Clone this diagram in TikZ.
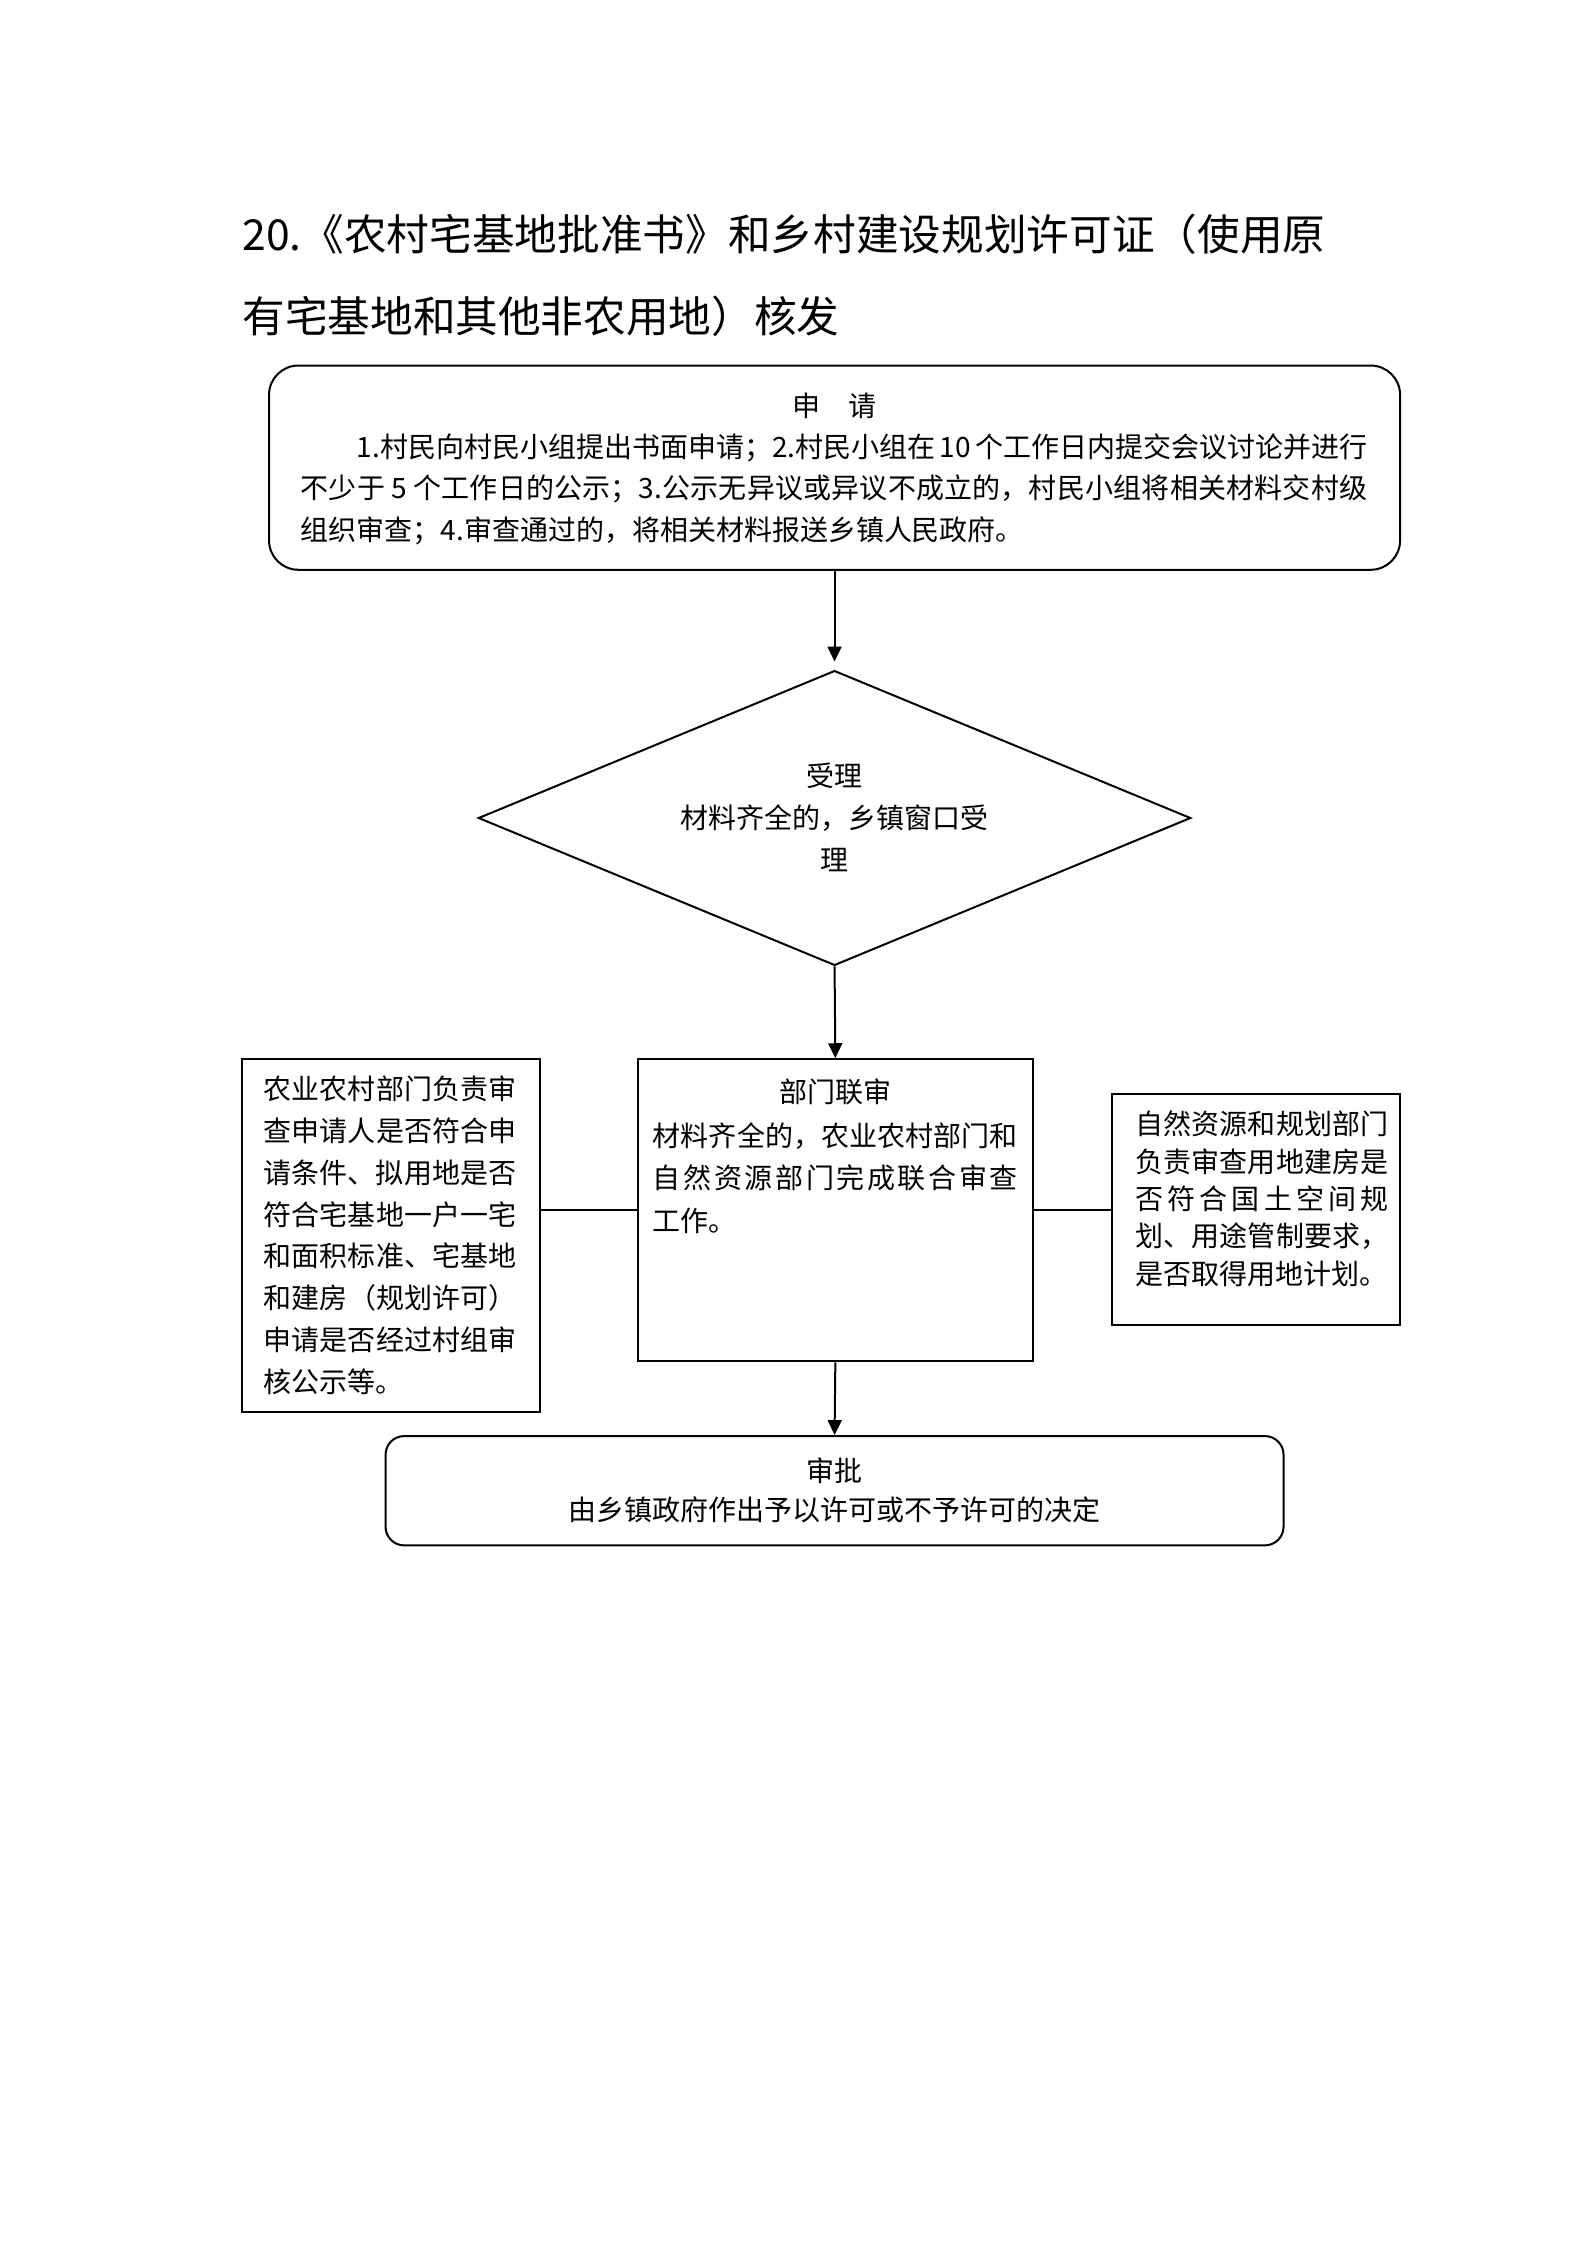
\documentclass[tikz,border=0pt]{standalone}
\usepackage{fontspec}
\setmainfont{Noto Sans CJK SC}
\usetikzlibrary{shapes.geometric,arrows.meta}
\XeTeXlinebreaklocale "zh"
\XeTeXlinebreakskip=0pt plus 3pt
\tikzset{
  box/.style={draw, line width=0.75pt, inner sep=0pt},
  txt/.style={inner sep=0pt, font=\fontsize{10.5pt}{15.65pt}\selectfont},
  ttl/.style={anchor=west, inner sep=0pt, font=\fontsize{16pt}{16pt}\selectfont},
  arr/.style={-{Triangle[length=5.6pt,width=5.2pt]}, line width=0.75pt},
  link/.style={line width=0.75pt}
}
\begin{document}
\begin{tikzpicture}[x=1pt,y=-1pt]
\path[use as bounding box, fill=white] (0,0) rectangle (595.3,842);
% title
\node[ttl] (title1) at (90.7,88) {20.《农村宅基地批准书》和乡村建设规划许可证（使用原};
\node[ttl] (title2) at (90.7,118.7) {有宅基地和其他非农用地）核发};
% apply box
\node[box, rounded corners=11pt, minimum width=424.2pt, minimum height=76.6pt] (apply) at (313,175.4) {};
\node[txt] (applyT) at (313,152.2) {申\hspace{1em}请};
\node[txt, text width=400pt, align=justify] (applyP) at (312.8,183.5) {\hspace*{21pt}1.村民向村民小组提出书面申请；2.村民小组在 10 个工作日内提交会议讨论并进行\linebreak 不少于 5 个工作日的公示；3.公示无异议或异议不成立的，村民小组将相关材料交村级\linebreak 组织审查；4.审查通过的，将相关材料报送乡镇人民政府。};
% diamond
\node[draw, line width=0.75pt, diamond, minimum width=267.2pt, minimum height=110.6pt, inner sep=0pt] (accept) at (313,306.8) {};
\node[txt, align=center] (acceptT) at (313,306.5) {受理\\材料齐全的，乡镇窗口受\\理};
% joint review
\node[box, minimum width=148.4pt, minimum height=113.3pt] (joint) at (313.3,453.9) {};
\node[txt] (jointT) at (313.3,409.6) {部门联审};
\node[txt, text width=137pt, align=justify, font=\fontsize{10.5pt}{16pt}\selectfont] (jointP) at (313.3,441.8) {材料齐全的，农业农村部门和\linebreak 自然资源部门完成联合审查\linebreak 工作。};
% left box
\node[box, minimum width=111.7pt, minimum height=132.2pt] (agri) at (146.5,463.3) {};
\node[txt, text width=95pt, align=justify] (agriP) at (146.3,463.3) {农业农村部门负责审\linebreak 查申请人是否符合申\linebreak 请条件、拟用地是否\linebreak 符合宅基地一户一宅\linebreak 和面积标准、宅基地\linebreak 和建房（规划许可）\linebreak 申请是否经过村组审\linebreak 核公示等。};
% right box
\node[box, minimum width=107.9pt, minimum height=86.9pt] (nat) at (471.1,453.6) {};
\node[txt, text width=95pt, align=justify, font=\fontsize{10.5pt}{14pt}\selectfont] (natP) at (473.3,449.6) {自然资源和规划部门\linebreak 负责审查用地建房是\linebreak 否符合国土空间规\linebreak 划、用途管制要求，\linebreak 是否取得用地计划。};
% approve box
\node[box, rounded corners=7pt, minimum width=336.8pt, minimum height=41pt] (approve) at (313,559.1) {};
\node[txt, align=center, font=\fontsize{10.5pt}{14.5pt}\selectfont] (approveT) at (313,558.9) {审批\\由乡镇政府作出予以许可或不予许可的决定};
% connectors
\draw[arr, shorten >=3pt] (apply.south) -- (accept.north);
\draw[arr] (accept.south) -- (joint.north);
\draw[arr] (joint.south) -- (approve.north);
\draw[link] (joint.west) -- (joint.west -| agri.east);
\draw[link] (joint.east) -- (joint.east -| nat.west);
\end{tikzpicture}
\end{document}
